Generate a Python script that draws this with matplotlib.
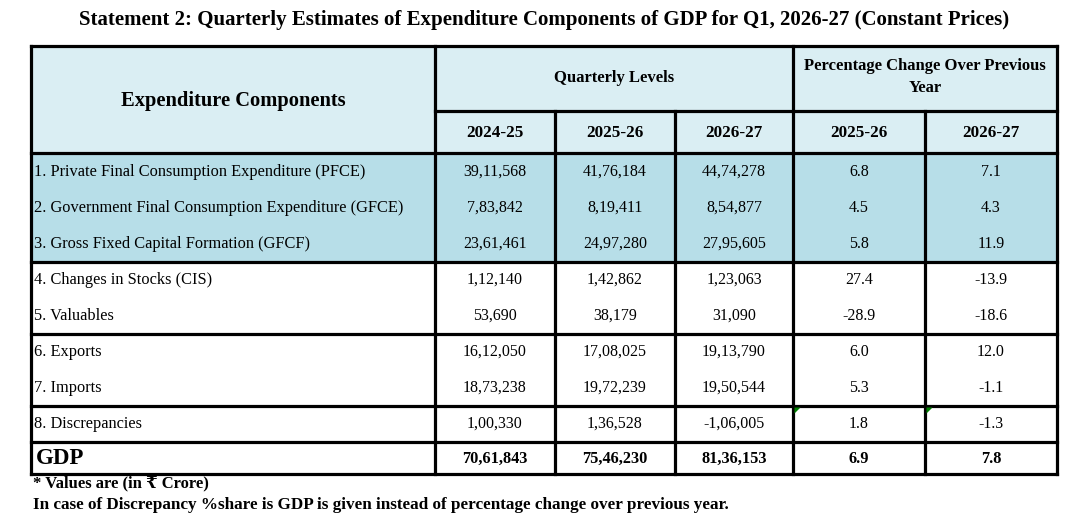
import matplotlib
matplotlib.use("Agg")
import matplotlib.pyplot as plt
from matplotlib.patches import Rectangle, Polygon

plt.rcParams['font.family'] = ['Liberation Serif', 'DejaVu Serif', 'DejaVu Sans']

title = "Statement 2: Quarterly Estimates of Expenditure Components of GDP for Q1, 2026-27 (Constant Prices)"
components = [
    "1. Private Final Consumption Expenditure (PFCE)",
    "2. Government Final Consumption Expenditure (GFCE)",
    "3. Gross Fixed Capital Formation (GFCF)",
    "4. Changes in Stocks (CIS)",
    "5. Valuables",
    "6. Exports",
    "7. Imports",
    "8. Discrepancies",
]
level_years = ["2024-25", "2025-26", "2026-27"]
change_years = ["2025-26", "2026-27"]
levels_2024_25 = ["39,11,568", "7,83,842", "23,61,461", "1,12,140", "53,690", "16,12,050", "18,73,238", "1,00,330"]
levels_2025_26 = ["41,76,184", "8,19,411", "24,97,280", "1,42,862", "38,179", "17,08,025", "19,72,239", "1,36,528"]
levels_2026_27 = ["44,74,278", "8,54,877", "27,95,605", "1,23,063", "31,090", "19,13,790", "19,50,544", "-1,06,005"]
change_2025_26 = ["6.8", "4.5", "5.8", "27.4", "-28.9", "6.0", "5.3", "1.8"]
change_2026_27 = ["7.1", "4.3", "11.9", "-13.9", "-18.6", "12.0", "-1.1", "-1.3"]
gdp_row = ["70,61,843", "75,46,230", "81,36,153", "6.9", "7.8"]
footnote1 = "* Values are (in \u20b9 Crore)"
footnote2 = "In case of Discrepancy %share is GDP is given instead of percentage change over previous year."

W, H = 1090, 530
fig = plt.figure(figsize=(W / 100, H / 100), dpi=100)
ax = fig.add_axes([0, 0, 1, 1])
ax.set_xlim(0, W)
ax.set_ylim(H, 0)
ax.axis('off')

col_x = [31, 435, 555, 675, 793, 925, 1057]
top, split, hdr_bot = 46, 111, 153
row_tops = [153, 189, 226, 262, 298, 334, 370, 406]
gdp_top, bottom = 442, 474

head_bg = "#DAEEF3"
hi_bg = "#B7DEE8"
lw = 2.3

# header background
ax.add_patch(Rectangle((col_x[0], top), col_x[-1] - col_x[0], hdr_bot - top, color=head_bg, zorder=0))
# highlighted rows 1-3
ax.add_patch(Rectangle((col_x[0], hdr_bot), col_x[-1] - col_x[0], row_tops[3] - hdr_bot, color=hi_bg, zorder=0))

# title
ax.text(W / 2 - 0.5, 20, title, ha='center', va='center', fontsize=15, fontweight='bold')

# header texts
ax.text((col_x[0] + col_x[1]) / 2, 101, "Expenditure Components", ha='center', va='center',
        fontsize=14.8, fontweight='bold')
ax.text((col_x[1] + col_x[4]) / 2, 78, "Quarterly Levels", ha='center', va='center',
        fontsize=12, fontweight='bold')
ax.text((col_x[4] + col_x[6]) / 2, 77, "Percentage Change Over Previous\nYear", ha='center',
        va='center', fontsize=12, fontweight='bold', linespacing=1.45)
for i, y in enumerate(level_years + change_years):
    ax.text((col_x[i + 1] + col_x[i + 2]) / 2, 133, y, ha='center', va='center',
            fontsize=12.3, fontweight='bold')

# data rows
columns = [levels_2024_25, levels_2025_26, levels_2026_27, change_2025_26, change_2026_27]
centers = [172, 208, 244, 280, 316, 352, 388, 424]
for r, name in enumerate(components):
    yc = centers[r]
    ax.text(col_x[0] + 3, yc, name, ha='left', va='center', fontsize=11.8)
    for c, col in enumerate(columns):
        ax.text((col_x[c + 1] + col_x[c + 2]) / 2, yc, col[r], ha='center', va='center', fontsize=11.5)

# GDP row
gyc = (gdp_top + bottom) / 2 + 1
ax.text(col_x[0] + 5, gyc, "GDP", ha='left', va='center', fontsize=16.5, fontweight='bold')
for c, v in enumerate(gdp_row):
    ax.text((col_x[c + 1] + col_x[c + 2]) / 2, gyc, v, ha='center', va='center',
            fontsize=11.8, fontweight='bold')

# grid lines
def hline(y, x0, x1):
    ax.plot([x0, x1], [y, y], color='black', lw=lw, solid_capstyle='projecting', zorder=3)

def vline(x, y0, y1):
    ax.plot([x, x], [y0, y1], color='black', lw=lw, solid_capstyle='projecting', zorder=3)

for y in [top, hdr_bot, row_tops[3], row_tops[5], row_tops[7], gdp_top, bottom]:
    hline(y, col_x[0], col_x[-1])
hline(split, col_x[1], col_x[-1])
for i, x in enumerate(col_x):
    if i in (2, 3, 5):
        vline(x, split, bottom)
    else:
        vline(x, top, bottom)

# Excel green error markers in discrepancy row
for c in (4, 5):
    x0, y0 = col_x[c] + 1.5, row_tops[7] + 1.5
    ax.add_patch(Polygon([[x0, y0], [x0 + 6, y0], [x0, y0 + 6]], closed=True,
                         color='#008000', zorder=4, lw=0))

# footnotes
ax.text(33, 483, footnote1, ha='left', va='center', fontsize=12, fontweight='bold')
ax.text(33, 505, footnote2, ha='left', va='center', fontsize=12.3, fontweight='bold')

fig.savefig("out.png", dpi=100)
